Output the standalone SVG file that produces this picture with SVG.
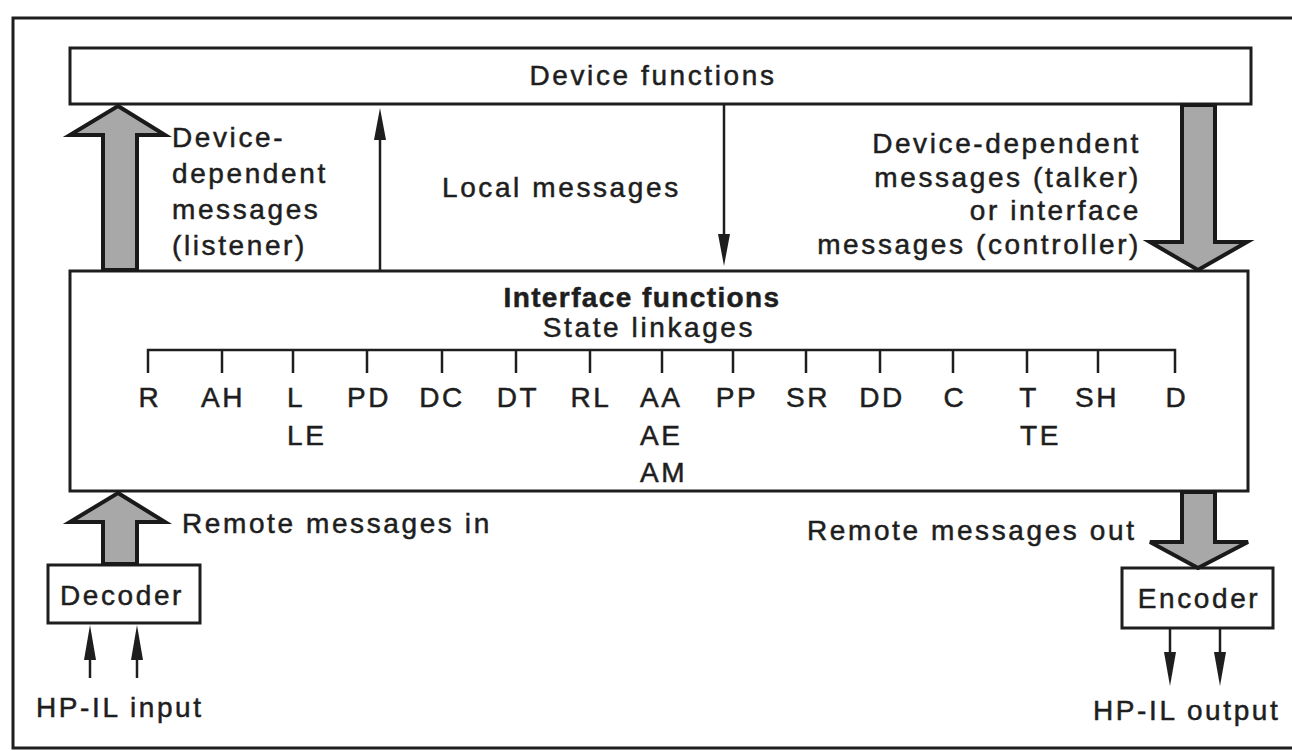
<svg xmlns="http://www.w3.org/2000/svg" width="1292" height="751" viewBox="0 0 1292 751">
<defs>
<style>
.t{font-family:"Liberation Sans",Arial,Helvetica,sans-serif;font-size:28px;letter-spacing:2.6px;fill:#1e1e1e;stroke:#1e1e1e;stroke-width:0.5px}
.b{font-weight:bold;letter-spacing:1.4px}
.m{text-anchor:middle}
.e{text-anchor:end}
.box{fill:#fff;stroke:#1e1e1e;stroke-width:3}
.big{fill:#a8a8a8;stroke:#1a1a1a;stroke-width:4;stroke-linejoin:miter}
.ln{stroke:#1e1e1e;stroke-width:2.5;fill:none}
.hd{fill:#1e1e1e}
</style>
</defs>
<rect width="1292" height="751" fill="#fff"/>
<path d="M1292,18 H13 V748 H1292" fill="none" stroke="#1e1e1e" stroke-width="3"/>

<g id="device-functions">
<rect class="box" x="70" y="48" width="1181" height="56"/>
<text class="t m" x="653" y="85">Device functions</text>
</g>

<g id="interface-functions">
<rect class="box" x="70" y="271" width="1178" height="220"/>
<text class="t b m" x="642" y="307">Interface functions</text>
<text class="t m" x="649" y="337">State linkages</text>
<path class="ln" d="M148,373 V350 H1175 V373 M222,350 V373 M293,350 V373 M367,350 V373 M442,350 V373 M516,350 V373 M590,350 V373 M662,350 V373 M733,350 V373 M806,350 V373 M880,350 V373 M953,350 V373 M1027,350 V373 M1098,350 V373" stroke-width="3"/>
<text class="t m" x="150" y="407">R</text>
<text class="t m" x="223" y="407">AH</text>
<text class="t" x="287" y="407">L</text>
<text class="t" x="287" y="445">LE</text>
<text class="t m" x="369" y="407">PD</text>
<text class="t m" x="442" y="407">DC</text>
<text class="t m" x="518" y="407">DT</text>
<text class="t m" x="591" y="407">RL</text>
<text class="t" x="640" y="407">AA</text>
<text class="t" x="640" y="445">AE</text>
<text class="t" x="640" y="482">AM</text>
<text class="t m" x="737" y="407">PP</text>
<text class="t m" x="808" y="407">SR</text>
<text class="t m" x="882" y="407">DD</text>
<text class="t m" x="955" y="407">C</text>
<text class="t m" x="1029" y="407">T</text>
<text class="t" x="1020" y="445">TE</text>
<text class="t m" x="1097" y="407">SH</text>
<text class="t m" x="1177" y="407">D</text>
</g>

<g id="decoder">
<rect class="box" x="48" y="565" width="152" height="58"/>
<text class="t m" x="122" y="605">Decoder</text>
</g>

<g id="encoder">
<rect class="box" x="1122" y="568" width="151" height="60"/>
<text class="t m" x="1199" y="608">Encoder</text>
</g>

<g id="connectors">
<polygon class="big" points="118,106 165,135 137,135 137,270 103,270 103,135 70,135"/>
<polygon class="big" points="1182,105 1215,105 1215,242 1247,242 1198,270 1150,242 1182,242"/>
<polygon class="big" points="118,493 165,522 137,522 137,564 103,564 103,522 70,522"/>
<polygon class="big" points="1182,492 1215,492 1215,542 1248,542 1198,568 1150,542 1182,542"/>

<line class="ln" x1="380" y1="270" x2="380" y2="130"/>
<polygon class="hd" points="380,108 386,140 374,140"/>
<line class="ln" x1="724" y1="104" x2="724" y2="245"/>
<polygon class="hd" points="724,266 730,234 718,234"/>

<line class="ln" x1="90" y1="678" x2="90" y2="645"/>
<polygon class="hd" points="90,625 96,660 84,660"/>
<line class="ln" x1="137" y1="678" x2="137" y2="645"/>
<polygon class="hd" points="137,625 143,660 131,660"/>
<line class="ln" x1="1170" y1="628" x2="1170" y2="665"/>
<polygon class="hd" points="1170,686 1176,652 1164,652"/>
<line class="ln" x1="1220" y1="628" x2="1220" y2="665"/>
<polygon class="hd" points="1220,686 1226,652 1214,652"/>
</g>

<g id="labels">
<text class="t" x="172" y="147">Device-</text>
<text class="t" x="172" y="183">dependent</text>
<text class="t" x="172" y="219">messages</text>
<text class="t" x="172" y="255">(listener)</text>
<text class="t" x="442" y="197">Local messages</text>
<text class="t e" x="1141" y="153">Device-dependent</text>
<text class="t e" x="1141" y="187">messages (talker)</text>
<text class="t e" x="1141" y="220">or interface</text>
<text class="t e" x="1141" y="254">messages (controller)</text>
<text class="t" x="182" y="533">Remote messages in</text>
<text class="t" x="807" y="540">Remote messages out</text>
<text class="t" x="36" y="717">HP-IL input</text>
<text class="t" x="1093" y="720">HP-IL output</text>
</g>
</svg>
